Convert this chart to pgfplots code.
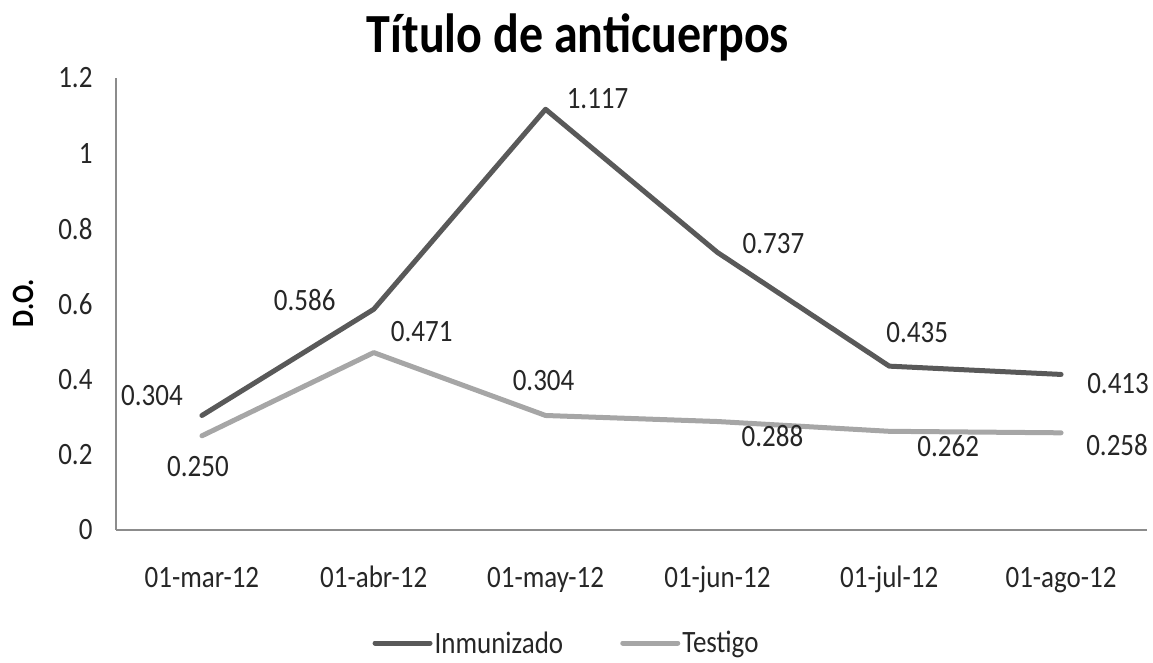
\documentclass[border=0pt]{standalone}
\usepackage{pgfplots}
\pgfplotsset{compat=1.18}
\usepackage{pgfplotstable}
\usepackage{graphicx}
\usepackage{fontspec}
\setmainfont{Carlito}
\definecolor{inm}{HTML}{595959}
\definecolor{tes}{HTML}{A6A6A6}
\definecolor{axl}{HTML}{8C8C8C}
\definecolor{txt}{HTML}{262626}
\newcommand{\vs}[1]{\scalebox{1}[1.15]{#1}}
\pgfplotstableread{
x y dx dy
0 0.304 -50 20
1 0.586 -69 9
2 1.117 52 11
3 0.737 56 9
4 0.435 28 34
5 0.413 57 -9
}\inm
\pgfplotstableread{
x y dx dy
0 0.250 -4 -31
1 0.471 48 21
2 0.304 -2 35
3 0.288 55 -14
4 0.262 59 -15
5 0.258 56 -12
}\tes
\begin{document}
\begin{tikzpicture}[font=\fontsize{27}{32}\selectfont]
\begin{axis}[
  at={(0pt,0pt)}, anchor=south west,
  scale only axis, width=1031pt, height=452pt,
  xmin=-0.5, xmax=5.5, ymin=0, ymax=1.2,
  axis lines*=left,
  axis line style={-, draw=axl, line width=1.3pt},
  xtick={0,1,2,3,4,5},
  xticklabels={\vs{01-mar-12},\vs{01-abr-12},\vs{01-may-12},\vs{01-jun-12},\vs{01-jul-12},\vs{01-ago-12}},
  ytick={0,0.2,0.4,0.6,0.8,1,1.2},
  yticklabels={\vs{0},\vs{0.2},\vs{0.4},\vs{0.6},\vs{0.8},\vs{1},\vs{1.2}},
  major tick length=0pt,
  tick style={draw=none},
  xticklabel style={anchor=base, yshift=-57pt, text=txt},
  yticklabel style={xshift=-20pt, text=txt},
  /pgf/number format/assume math mode=true,
  title={\fontsize{48}{56}\selectfont\bfseries\vs{Título de anticuerpos}},
  title style={at={(0.448,1.044)}, anchor=base, text=black},
  ylabel={\bfseries\vs{D.O.}},
  ylabel style={at={(axis description cs:-0.0902,0.502)}, anchor=center, text=black},
  legend style={at={(0.437,-0.250)}, anchor=center, draw=none, fill=none,
    legend columns=2, /tikz/every even column/.append style={column sep=55pt},
    text=txt, inner sep=0pt},
  legend image code/.code={\draw[#1, line width=5pt] (0pt,0pt) -- (55pt,0pt);},
  nodes near coords={\vs{\pgfmathprintnumber[fixed,precision=3,fixed zerofill]{\pgfplotspointmeta}}},
  point meta=y,
  visualization depends on={\thisrow{dx} \as \dx},
  visualization depends on={\thisrow{dy} \as \dy},
  every node near coord/.append style={anchor=center, xshift=\dx pt, yshift=\dy pt, text=txt, font=\fontsize{27}{32}\selectfont},
  clip=false,
]
\addplot[color=inm, line width=5pt, line join=round, line cap=round, mark=none] table[x=x,y=y] {\inm};
\addlegendentry{\vs{Inmunizado}}
\addplot[color=tes, line width=5pt, line join=round, line cap=round, mark=none] table[x=x,y=y] {\tes};
\addlegendentry{\vs{Testigo}}
\end{axis}
\pgfresetboundingbox
\path[use as bounding box] (-116pt,-133pt) rectangle (1037pt,530pt);
\end{tikzpicture}
\end{document}
